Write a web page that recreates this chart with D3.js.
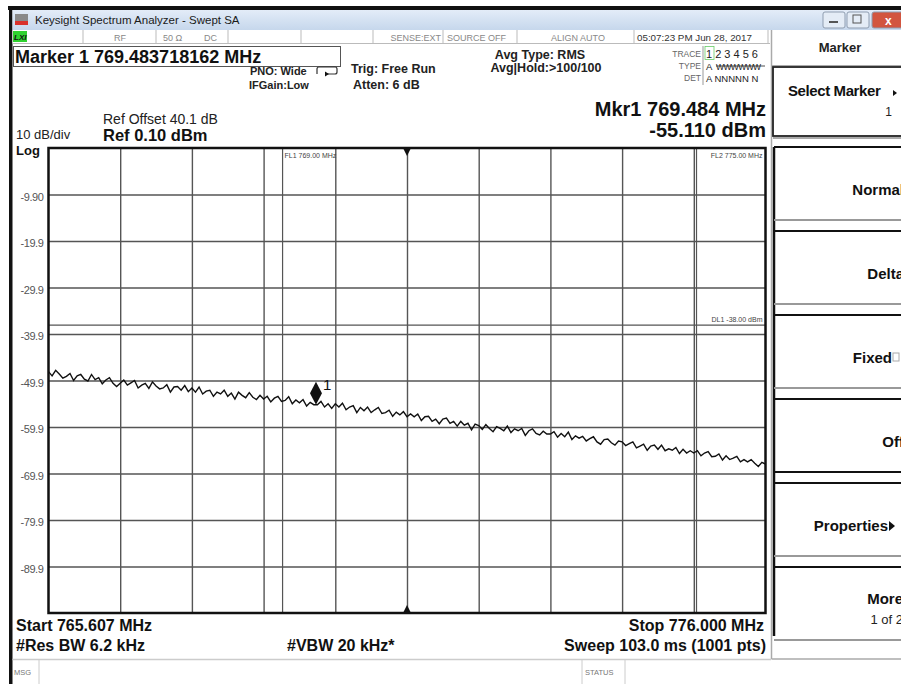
<!DOCTYPE html>
<html>
<head>
<meta charset="utf-8">
<script src="https://cdn.jsdelivr.net/npm/d3@7"></script>
<style>
body { margin: 0; background: #fff; }
svg { display: block; font-family: "Liberation Sans", Arial, sans-serif; }
</style>
</head>
<body>
<svg id="sa" width="901" height="684"></svg>
<script>
// sweep settings
var startMHz = 765.607,
    stopMHz = 776.000,
    refLevel = 0.10,
    dbPerDiv = 10;

var yTickValues = [-9.9, -19.9, -29.9, -39.9, -49.9, -59.9, -69.9, -79.9, -89.9];
var yTickLabels = ["-9.90", "-19.9", "-29.9", "-39.9", "-49.9", "-59.9", "-69.9", "-79.9", "-89.9"];

// trace 1 (dBm), read by eye, evenly spaced across the sweep
var traceDbm = [
  -48.0,-48.9,-47.7,-48.5,-49.4,-49.0,-48.4,-49.9,-48.9,-48.6,-49.6,-50.0,-48.6,-49.7,-49.3,-50.6,-49.8,-49.3,-50.5,-51.2,
  -50.5,-49.8,-50.9,-50.4,-49.9,-51.5,-50.9,-50.5,-51.6,-50.2,-51.1,-51.7,-51.5,-50.8,-52.4,-51.3,-51.2,-52.0,-51.0,-52.3,
  -51.5,-52.4,-51.3,-52.8,-52.2,-52.0,-53.3,-52.4,-52.8,-52.0,-53.3,-52.6,-53.9,-52.4,-53.1,-53.6,-52.5,-53.5,-54.0,-53.1,
  -53.9,-53.3,-54.5,-53.7,-53.3,-54.4,-54.2,-53.4,-54.9,-54.1,-54.7,-54.0,-55.4,-54.6,-55.1,-55.1,-54.4,-55.6,-54.9,-55.9,
  -54.9,-55.6,-54.8,-56.2,-55.6,-55.3,-56.8,-55.7,-56.4,-55.6,-56.8,-56.2,-55.7,-57.0,-56.8,-56.3,-57.6,-56.7,-57.3,-56.6,
  -57.7,-57.1,-57.7,-57.1,-58.5,-57.7,-57.6,-58.7,-58.2,-59.2,-58.2,-58.0,-59.1,-58.7,-59.7,-58.7,-59.5,-59.1,-60.5,-59.3,
  -59.6,-60.4,-59.4,-60.2,-60.9,-59.8,-60.2,-60.7,-59.7,-61.1,-60.3,-60.7,-60.2,-61.7,-60.7,-60.3,-61.3,-61.6,-60.8,-61.4,
  -61.4,-60.9,-62.1,-61.3,-62.0,-61.0,-62.6,-61.8,-62.3,-61.9,-62.9,-62.4,-62.0,-63.1,-63.6,-62.6,-62.5,-63.3,-63.8,-62.9,
  -63.1,-63.9,-63.5,-63.1,-64.4,-64.0,-63.6,-64.9,-64.0,-63.8,-64.7,-63.8,-65.0,-64.6,-64.9,-64.3,-65.6,-64.7,-65.5,-65.0,
  -65.5,-65.0,-66.1,-65.5,-65.2,-66.3,-66.2,-65.7,-67.0,-66.1,-66.9,-66.6,-66.2,-67.4,-66.9,-67.4,-66.9,-67.7,-68.4,-67.5,-67.9
];

var markerFreq = 769.484, markerDbm = -55.110;
var fl1 = 769.00, fl2 = 775.00, dl1 = -38.00;

var statusLabels = ["RF", "50 \u03a9", "DC", "SENSE:EXT", "SOURCE OFF", "ALIGN AUTO", "05:07:23 PM Jun 28, 2017"];
var softkeys = ["Normal", "Delta", "Fixed", "Off", "Properties", "More"];

var svg = d3.select("#sa"),
    plot = {left: 48.5, right: 765.5, top: 148, bottom: 613};

var x = d3.scaleLinear().domain([startMHz, stopMHz]).range([plot.left, plot.right]);
var y = d3.scaleLinear().domain([refLevel - 10 * dbPerDiv, refLevel]).range([plot.bottom, plot.top]);

function txt(px, py, s, size, opts) {
  opts = opts || {};
  return svg.append("text")
      .attr("x", px).attr("y", py)
      .attr("font-size", size)
      .attr("font-weight", opts.bold ? "bold" : null)
      .attr("text-anchor", opts.anchor || "start")
      .attr("fill", opts.fill || "#111")
      .attr("letter-spacing", opts.ls || null)
      .text(s);
}
function hline(x1, x2, yy, col, w) {
  svg.append("line").attr("x1", x1).attr("x2", x2).attr("y1", yy).attr("y2", yy)
      .attr("stroke", col).attr("stroke-width", w || 1);
}
function vline(xx, y1, y2, col, w) {
  svg.append("line").attr("x1", xx).attr("x2", xx).attr("y1", y1).attr("y2", y2)
      .attr("stroke", col).attr("stroke-width", w || 1);
}

// ---------- window chrome ----------
var defs = svg.append("defs");
var tb = defs.append("linearGradient").attr("id", "tb").attr("x1", 0).attr("x2", 0).attr("y1", 0).attr("y2", 1);
tb.append("stop").attr("offset", "0%").attr("stop-color", "#e3ecf8");
tb.append("stop").attr("offset", "100%").attr("stop-color", "#c6d7ec");

svg.append("rect").attr("x", 8).attr("y", 6).attr("width", 893).attr("height", 4).attr("fill", "#111");
svg.append("rect").attr("x", 9).attr("y", 6).attr("width", 3.5).attr("height", 678).attr("fill", "#111");
svg.append("rect").attr("x", 12.5).attr("y", 10).attr("width", 889).attr("height", 20).attr("fill", "url(#tb)");

// app icon
svg.append("rect").attr("x", 15).attr("y", 14).attr("width", 13).attr("height", 11).attr("fill", "#8a8a8a");
svg.append("rect").attr("x", 15).attr("y", 21).attr("width", 13).attr("height", 4).attr("fill", "#d9312b");
txt(35, 24, "Keysight Spectrum Analyzer - Swept SA", 11.5, {fill: "#1a1a1a"});

// min / restore / close
[[823, "#e4ecf6"], [847, "#e4ecf6"], [872, "#d2553f"]].forEach(function(b, i) {
  svg.append("rect").attr("x", b[0]).attr("y", 12).attr("width", i == 2 ? 32 : 22).attr("height", 16)
      .attr("rx", 2).attr("fill", b[1]).attr("stroke", "#8f9db0");
});
hline(829, 838, 22, "#555", 2);
svg.append("rect").attr("x", 853).attr("y", 15).attr("width", 8).attr("height", 8).attr("fill", "none").attr("stroke", "#555");
txt(885, 25, "x", 12, {bold: true, fill: "#fff"});

// ---------- status bar ----------
svg.append("rect").attr("x", 12.5).attr("y", 30).attr("width", 758).attr("height", 13).attr("fill", "#fff");
[83, 156, 228, 301, 373, 443, 517, 634, 768].forEach(function(d) { vline(d, 30, 43, "#bbb"); });
hline(12.5, 770, 43.5, "#bbb");
svg.append("rect").attr("x", 13).attr("y", 31).attr("width", 14).attr("height", 11).attr("fill", "#2fd12f");
svg.append("text").attr("x", 14).attr("y", 40).attr("font-size", 8).attr("font-weight", "bold")
    .attr("font-style", "italic").attr("fill", "#111").text("LXI");
txt(120, 41, statusLabels[0], 9, {anchor: "middle", fill: "#888"});
txt(163, 41, statusLabels[1], 9, {fill: "#888"});
txt(204, 41, statusLabels[2], 9, {fill: "#888"});
txt(441, 41, statusLabels[3], 9, {anchor: "end", fill: "#888"});
txt(447, 41, statusLabels[4], 9, {fill: "#888"});
txt(578, 41, statusLabels[5], 9, {anchor: "middle", fill: "#888"});
txt(637, 41, statusLabels[6], 9.8, {fill: "#333"});

// ---------- setup block ----------
svg.append("rect").attr("x", 13.5).attr("y", 46.5).attr("width", 327).attr("height", 20)
    .attr("fill", "none").attr("stroke", "#555");
txt(15, 63, "Marker 1 769.483718162 MHz", 18, {bold: true});
txt(250, 75, "PNO: Wide", 11, {bold: true, fill: "#222"});
txt(249, 89, "IFGain:Low", 11, {bold: true, fill: "#222"});
svg.append("path").attr("d", "M317,74 v-5 q0,-2 2,-2 h16 q2,0 2,2 v3 q0,2 -2,2 h-10")
    .attr("fill", "none").attr("stroke", "#333").attr("stroke-width", 1.2);
svg.append("path").attr("d", "M325,71.5 l4,2.5 l-4,2.5 z").attr("fill", "#111");
txt(351, 73, "Trig: Free Run", 12.5, {bold: true, fill: "#222"});
txt(353, 89, "Atten: 6 dB", 12.5, {bold: true, fill: "#222"});
txt(540, 59, "Avg Type: RMS", 12.5, {bold: true, anchor: "middle", fill: "#222"});
txt(546, 72, "Avg|Hold:>100/100", 12.5, {bold: true, anchor: "middle", fill: "#222"});

// trace table
vline(703, 46, 85, "#999");
txt(701, 57, "TRACE", 8.5, {anchor: "end", fill: "#666"});
txt(701, 69, "TYPE", 8.5, {anchor: "end", fill: "#666"});
txt(701, 81, "DET", 8.5, {anchor: "end", fill: "#666"});
svg.append("rect").attr("x", 705).attr("y", 46.5).attr("width", 9).attr("height", 13)
    .attr("fill", "none").attr("stroke", "#6c6").attr("stroke-width", 0.8);
txt(706, 58, "1 2 3 4 5 6", 11, {fill: "#222"});
txt(706, 70, "A", 9.5, {fill: "#222"});
txt(716, 70, "WWWWWW", 8.5, {fill: "#222", ls: -0.6});
hline(716, 765, 66, "#222", 0.8);
txt(706, 82, "A NNNNN N", 9.5, {fill: "#222"});

// ref readouts
txt(103, 124, "Ref Offset 40.1 dB", 14, {fill: "#222"});
txt(103, 141, "Ref 0.10 dBm", 16.5, {bold: true});
txt(16, 139, "10 dB/div", 13, {fill: "#222"});
txt(16, 155, "Log", 13, {bold: true});
txt(766, 116, "Mkr1 769.484 MHz", 20, {bold: true, anchor: "end"});
txt(766, 137, "-55.110 dBm", 20, {bold: true, anchor: "end"});

// ---------- graticule ----------
svg.append("rect").attr("x", plot.left).attr("y", plot.top)
    .attr("width", plot.right - plot.left).attr("height", plot.bottom - plot.top).attr("fill", "#fff");

var gridFreqs = d3.range(1, 10).map(function(i) { return startMHz + i * (stopMHz - startMHz) / 10; });

var yAxis = svg.append("g")
    .attr("transform", "translate(" + plot.left + ",0)")
    .call(d3.axisLeft(y).tickValues(yTickValues)
      .tickSize(-(plot.right - plot.left)).tickPadding(5)
      .tickFormat(function(d, i) { return yTickLabels[i]; }));
yAxis.select(".domain").remove();
yAxis.selectAll("line").attr("stroke", "#555").attr("stroke-width", 1.4);
yAxis.selectAll("text").attr("font-size", 11).attr("fill", "#555")
    .attr("font-family", "'Liberation Sans', Arial, sans-serif").attr("letter-spacing", -0.4).attr("dy", "0.5em");

var xAxis = svg.append("g")
    .attr("transform", "translate(0," + plot.bottom + ")")
    .call(d3.axisBottom(x).tickValues(gridFreqs).tickSize(-(plot.bottom - plot.top)).tickFormat(""));
xAxis.select(".domain").remove();
xAxis.selectAll("line").attr("stroke", "#555").attr("stroke-width", 1.4);

// limit lines
[fl1, fl2].forEach(function(f) { vline(x(f), plot.top, plot.bottom, "#555", 1.2); });
hline(plot.left, plot.right, y(dl1), "#555", 1.2);
txt(x(fl1) + 2, 158, "FL1 769.00 MHz", 7, {fill: "#444"});
txt(x(fl2) + 66, 158, "FL2 775.00 MHz", 7, {anchor: "end", fill: "#444"});
txt(x(fl2) + 66, y(dl1) - 3, "DL1 -38.00 dBm", 7, {anchor: "end", fill: "#444"});

svg.append("rect").attr("x", plot.left).attr("y", plot.top)
    .attr("width", plot.right - plot.left).attr("height", plot.bottom - plot.top)
    .attr("fill", "none").attr("stroke", "#111").attr("stroke-width", 2.5);

// centre markers
var cx = x((startMHz + stopMHz) / 2);
svg.append("path").attr("d", "M" + (cx - 4) + "," + plot.top + " h8 l-4,8 z").attr("fill", "#111");
svg.append("path").attr("d", "M" + (cx - 4) + "," + plot.bottom + " h8 l-4,-8 z").attr("fill", "#111");

// trace
var line = d3.line()
    .x(function(d, i) { return x(startMHz + i * (stopMHz - startMHz) / (traceDbm.length - 1)); })
    .y(function(d) { return y(d); });

svg.append("path")
    .datum(traceDbm)
    .attr("d", line)
    .attr("fill", "none")
    .attr("stroke", "#111")
    .attr("stroke-width", 1.4)
    .attr("stroke-linejoin", "miter");

// marker 1
var mx = x(markerFreq), my = y(markerDbm);
svg.append("path")
    .attr("d", "M" + mx + "," + my + " l6,-11.5 l-6,-11.5 l-6,11.5 z")
    .attr("fill", "#111");
txt(mx + 7, my - 15, "1", 15, {fill: "#111"});

// ---------- bottom readouts ----------
txt(16, 631, "Start 765.607 MHz", 16, {bold: true});
txt(16, 651, "#Res BW 6.2 kHz", 16, {bold: true});
txt(287, 651, "#VBW 20 kHz*", 16, {bold: true});
txt(764, 631, "Stop 776.000 MHz", 16, {bold: true, anchor: "end"});
txt(766, 651, "Sweep  103.0 ms (1001 pts)", 16, {bold: true, anchor: "end"});

hline(12.5, 771, 659.5, "#ccc", 1.5);
vline(39, 660, 684, "#ccc");
vline(582, 660, 684, "#ccc");
vline(625, 660, 684, "#ccc");
txt(14, 675, "MSG", 7.5, {fill: "#777"});
txt(585, 675, "STATUS", 7.5, {fill: "#777"});

// ---------- softkey panel ----------
vline(771.5, 30, 659, "#aaa", 1.5);
hline(771.5, 901, 659, "#aaa", 1.5);
hline(771.5, 901, 65.5, "#aaa", 1);
txt(840, 52, "Marker", 13, {bold: true, anchor: "middle", fill: "#222"});

svg.append("rect").attr("x", 773).attr("y", 67).attr("width", 140).attr("height", 69)
    .attr("fill", "#fff").attr("stroke", "#222").attr("stroke-width", 1.8);
hline(773, 901, 138, "#aaa", 2);
txt(788, 96, "Select Marker", 15, {bold: true, ls: -0.4});
svg.append("path").attr("d", "M893,90 l4,3 l-4,3 z").attr("fill", "#111");
txt(892, 116, "1", 12, {anchor: "end", fill: "#222"});

vline(774, 147, 636, "#111", 2.5);
softkeys.forEach(function(k, i) {
  var top = 147 + i * 84;
  hline(774, 901, top, "#111", 2.2);
  hline(774, 901, top + 73, i == 3 ? "#111" : "#999", 2);
  var mid = top + 43;
  if (k == "Fixed") {
    txt(892, mid + 5, k, 15, {bold: true, anchor: "end"});
    svg.append("rect").attr("x", 893).attr("y", mid - 5).attr("width", 6).attr("height", 8)
        .attr("fill", "none").attr("stroke", "#aaa");
  } else if (k == "Properties") {
    txt(888, mid + 5, k, 15, {bold: true, anchor: "end"});
    svg.append("path").attr("d", "M889," + (mid - 5) + " l6,5 l-6,5 z").attr("fill", "#111");
  } else if (k == "More") {
    txt(903, mid - 6, k, 15, {bold: true, anchor: "end"});
    txt(903, mid + 14, "1 of 2", 13, {anchor: "end", fill: "#222"});
  } else {
    txt(904, mid + 5, k, 15, {bold: true, anchor: "end"});
  }
});
</script>
</body>
</html>
